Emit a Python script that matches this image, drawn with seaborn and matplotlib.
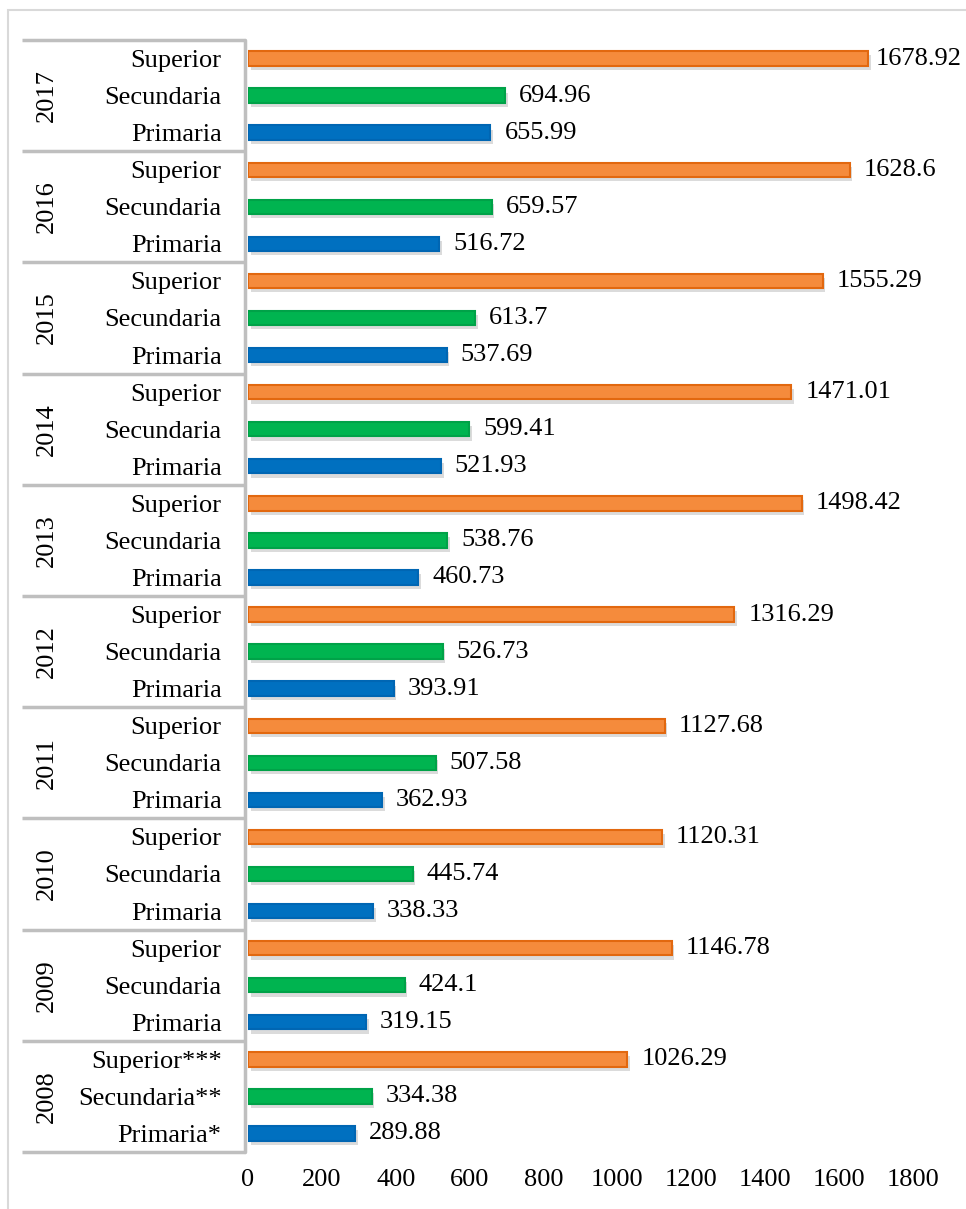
import pandas as pd
import matplotlib.pyplot as plt
import matplotlib.patheffects as pe
import matplotlib.transforms as mtransforms
from matplotlib.patches import Rectangle
import seaborn as sns

# Datos (de arriba hacia abajo)
years = [2017, 2016, 2015, 2014, 2013, 2012, 2011, 2010, 2009, 2008]
superior = [1678.92, 1628.6, 1555.29, 1471.01, 1498.42, 1316.29, 1127.68, 1120.31, 1146.78, 1026.29]
secundaria = [694.96, 659.57, 613.7, 599.41, 538.76, 526.73, 507.58, 445.74, 424.1, 334.38]
primaria = [655.99, 516.72, 537.69, 521.93, 460.73, 393.91, 362.93, 338.33, 319.15, 289.88]
niveles = ["Superior", "Secundaria", "Primaria"]
etiquetas_2008 = ["Superior***", "Secundaria**", "Primaria*"]
x_ticks = [0, 200, 400, 600, 800, 1000, 1200, 1400, 1600, 1800]

colores = {"Superior": "#F58B3C", "Secundaria": "#00B450", "Primaria": "#0070C0"}
bordes = {"Superior": "#E2680F", "Secundaria": "#00A248", "Primaria": "#0066B3"}

rows = []
for i, y in enumerate(years):
    for nivel, serie in zip(niveles, [superior, secundaria, primaria]):
        rows.append({"fila": f"{y} {nivel}", "nivel": nivel, "valor": serie[i]})
df = pd.DataFrame(rows)

sns.set_style("white")
plt.rcParams["font.family"] = ["Liberation Serif", "DejaVu Serif"]

fig = plt.figure(figsize=(9.66, 12.09), dpi=100)
ax = fig.add_axes([248 / 966, 1 - 1152 / 1209, 665 / 966, 1112 / 1209])

sns.barplot(data=df, x="valor", y="fila", hue="nivel", palette=colores,
            dodge=False, width=0.39, orient="h", legend=False, ax=ax, saturation=1,
            order=df["fila"].tolist(), hue_order=niveles)

for p in ax.patches:
    w = p.get_width()
    if not w == w or w == 0:
        continue
    yc = p.get_y() + p.get_height() / 2
    idx = int(round(yc))
    nivel = df["nivel"].iloc[idx]
    p.set_edgecolor(bordes[nivel])
    p.set_linewidth(1.5)
    p.set_path_effects([pe.SimplePatchShadow(offset=(2, -3), shadow_rgbFace="#888888", alpha=0.3),
                        pe.Normal()])
    # etiqueta de valor; la mas larga se ajusta al borde como en Excel
    ax.text(min(w + 38, 1700), yc, f"{df['valor'].iloc[idx]:g}", va="center", ha="left",
            fontsize=19, color="black", clip_on=False)

ax.set_xlim(0, 1800)
ax.set_ylim(len(df) - 0.5, -0.5)
ax.set_xticks(x_ticks)
ax.set_xticklabels([str(t) for t in x_ticks], fontsize=19)

labels = niveles * (len(years) - 1) + etiquetas_2008
ax.set_yticks(range(len(df)))
ax.set_yticklabels(labels, fontsize=19)
ax.tick_params(axis="y", length=0, pad=19, labelcolor="black")
ax.tick_params(axis="x", length=0, pad=12, labelcolor="black")
ax.set_xlabel("")
ax.set_ylabel("")
for s in ax.spines.values():
    s.set_visible(False)

# caja de categorias con separadores por anio
trans = mtransforms.blended_transform_factory(ax.transAxes, ax.transData)
x_left = (22 - 248) / 665
for k in range(len(years) + 1):
    ax.plot([x_left, -0.004], [k * 3 - 0.5] * 2, color="#BFBFBF", lw=2.5,
            transform=trans, clip_on=False, solid_capstyle="butt")
ax.plot([-0.004, -0.004], [-0.5, len(df) - 0.5], color="#BFBFBF", lw=2.5,
        transform=trans, clip_on=False)
for k, y in enumerate(years):
    ax.text((47 - 248) / 665, k * 3 + 1, str(y), rotation=90, ha="center", va="center",
            fontsize=19, color="black", transform=trans)

# borde exterior
fig.patches.append(Rectangle((8 / 966, -0.1), 1.2, 1.1 - 10 / 1209, transform=fig.transFigure,
                             fill=False, edgecolor="#D9D9D9", lw=1.5))

plt.savefig("out.png", dpi=100)
plt.close()
